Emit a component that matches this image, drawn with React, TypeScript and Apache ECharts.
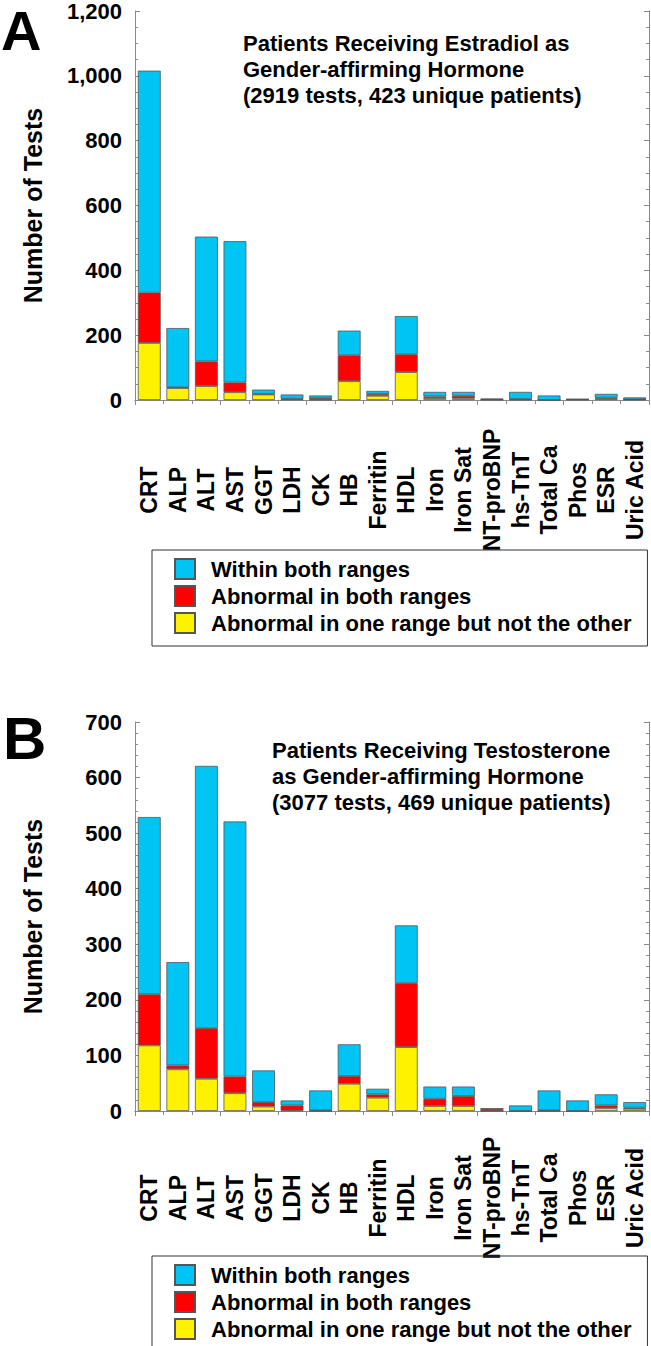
import React, { useEffect, useRef } from "react";
import * as echarts from "echarts";

const categories = [
  "CRT", "ALP", "ALT", "AST", "GGT", "LDH", "CK", "HB", "Ferritin", "HDL",
  "Iron", "Iron Sat", "NT-proBNP", "hs-TnT", "Total Ca", "Phos", "ESR", "Uric Acid",
];

const seriesNames = [
  "Within both ranges",
  "Abnormal in both ranges",
  "Abnormal in one range but not the other",
];

// Panel A – Estradiol
const aOneRange = [176, 37, 43, 24, 17, 2, 1, 58, 13, 86, 6, 5, 1, 1, 0, 1, 4, 1];
const aBothRanges = [155, 2, 76, 30, 2, 2, 5, 80, 6, 55, 5, 8, 1, 2, 0, 1, 3, 1];
const aWithin = [685, 183, 385, 436, 13, 13, 8, 76, 9, 118, 14, 12, 2, 22, 14, 1, 12, 6];

// Panel B – Testosterone
const bOneRange = [118, 75, 58, 32, 8, 1, 0, 49, 24, 115, 9, 9, 0, 0, 0, 0, 5, 4];
const bBothRanges = [92, 7, 91, 30, 8, 9, 1, 14, 6, 115, 13, 18, 4, 0, 1, 0, 5, 2];
const bWithin = [319, 186, 472, 459, 57, 9, 36, 57, 10, 104, 22, 17, 0, 10, 36, 19, 20, 10];

const aTitle = [
  "Patients Receiving Estradiol as",
  "Gender-affirming Hormone",
  "(2919 tests, 423 unique patients)",
];
const bTitle = [
  "Patients Receiving Testosterone",
  "as Gender-affirming Hormone",
  "(3077 tests, 469 unique patients)",
];

const FONT = "'Liberation Sans', Arial, Helvetica, sans-serif";
const BLUE = "#00C4F4";
const RED = "#FF0000";
const YELLOW = "#FFF200";
const AXIS = "#8a8a8a";
const EDGE = "#555555";

function buildOption() {
  const grids = [
    { left: 135, top: 11, width: 514, height: 389 },
    { left: 135, top: 722, width: 514, height: 389 },
  ];

  const xAxes: any[] = [];
  const yAxes: any[] = [];
  const yMax = [1200, 700];
  const yInt = [200, 100];
  const minorSplit = [4, 5];
  const labelMargin = [90, 87];

  for (let g = 0; g < 2; g++) {
    xAxes.push({
      type: "category",
      gridIndex: g,
      position: "bottom",
      data: categories,
      axisLine: { show: true, lineStyle: { color: AXIS, width: 1 } },
      axisTick: { show: true, inside: false, length: 4, lineStyle: { color: AXIS } },
      axisLabel: {
        interval: 0,
        rotate: 90,
        align: "center",
        verticalAlign: "middle",
        margin: labelMargin[g],
        fontFamily: FONT,
        fontSize: 23,
        fontWeight: "bold",
        color: "#000",
      },
    });
    xAxes.push({
      type: "category",
      gridIndex: g,
      position: "top",
      data: categories,
      axisLine: { show: true, lineStyle: { color: AXIS, width: 1 } },
      axisTick: { show: true, inside: true, length: 5, lineStyle: { color: AXIS } },
      axisLabel: { show: false },
    });
    const common = {
      type: "value",
      gridIndex: g,
      min: 0,
      max: yMax[g],
      interval: yInt[g],
      splitLine: { show: false },
      axisLine: { show: true, lineStyle: { color: AXIS, width: 1 } },
      axisTick: { show: true, inside: true, length: 5, lineStyle: { color: AXIS } },
      minorTick: { show: true, splitNumber: minorSplit[g], length: 3, lineStyle: { color: AXIS } },
    };
    yAxes.push({
      ...common,
      position: "left",
      name: "Number of Tests",
      nameLocation: "middle",
      nameGap: 90,
      nameTextStyle: { fontFamily: FONT, fontSize: 25, fontWeight: "bold", color: "#000" },
      axisLabel: {
        margin: 13,
        fontFamily: FONT,
        fontSize: 22,
        fontWeight: "bold",
        color: "#000",
        formatter: (v: number) => v.toLocaleString("en-US"),
      },
    });
    yAxes.push({
      ...common,
      position: "right",
      axisLabel: { show: false },
    });
  }

  const panels = [
    { one: aOneRange, both: aBothRanges, within: aWithin },
    { one: bOneRange, both: bBothRanges, within: bWithin },
  ];
  const series: any[] = [];
  panels.forEach((p, g) => {
    const base = {
      type: "bar",
      stack: "s" + g,
      xAxisIndex: g * 2,
      yAxisIndex: g * 2,
      barWidth: "80%",
    };
    series.push({
      ...base,
      name: seriesNames[2],
      data: p.one,
      itemStyle: { color: YELLOW, borderColor: EDGE, borderWidth: 0.8 },
    });
    series.push({
      ...base,
      name: seriesNames[1],
      data: p.both,
      itemStyle: { color: RED, borderColor: EDGE, borderWidth: 0.8 },
    });
    series.push({
      ...base,
      name: seriesNames[0],
      data: p.within,
      itemStyle: { color: BLUE, borderColor: EDGE, borderWidth: 0.8 },
    });
  });

  const legendBase = {
    orient: "vertical",
    left: 152,
    height: 120,
    width: 600,
    data: seriesNames,
    selectedMode: false,
    icon: "rect",
    itemWidth: 20,
    itemHeight: 20,
    itemGap: 5,
    padding: [8, 16, 12, 22],
    borderColor: "#333",
    borderWidth: 1,
    textStyle: {
      fontFamily: FONT,
      fontSize: 22,
      fontWeight: "bold",
      color: "#000",
      lineHeight: 20,
      padding: [0, 0, 0, 11],
    },
  };

  const titleText = (lines: string[], x: number, y: number) => ({
    type: "text",
    left: x,
    top: y,
    style: {
      text: lines.join("\n"),
      font: `bold 22px ${FONT}`,
      fill: "#000",
      lineHeight: 26,
    },
  });

  return {
    animation: false,
    backgroundColor: "#fff",
    grid: grids,
    xAxis: xAxes,
    yAxis: yAxes,
    series,
    legend: [
      { ...legendBase, top: 550 },
      { ...legendBase, top: 1256 },
    ],
    graphic: [
      {
        type: "text",
        left: 1,
        top: 2,
        style: { text: "A", font: `bold 56px ${FONT}`, fill: "#000" },
      },
      {
        type: "text",
        left: 3,
        top: 708,
        style: { text: "B", font: `bold 60px ${FONT}`, fill: "#000" },
      },
      titleText(aTitle, 243, 30),
      titleText(bTitle, 272, 737),
    ],
  };
}

export default function App() {
  const ref = useRef<HTMLDivElement>(null);
  useEffect(() => {
    if (!ref.current) return;
    const chart = echarts.init(ref.current, undefined, { renderer: "svg" });
    chart.setOption(buildOption() as any);
    return () => chart.dispose();
  }, []);
  return (
    <div
      ref={ref}
      style={{ position: "absolute", left: 0, top: 0, width: 651, height: 1346, background: "#fff" }}
    />
  );
}
